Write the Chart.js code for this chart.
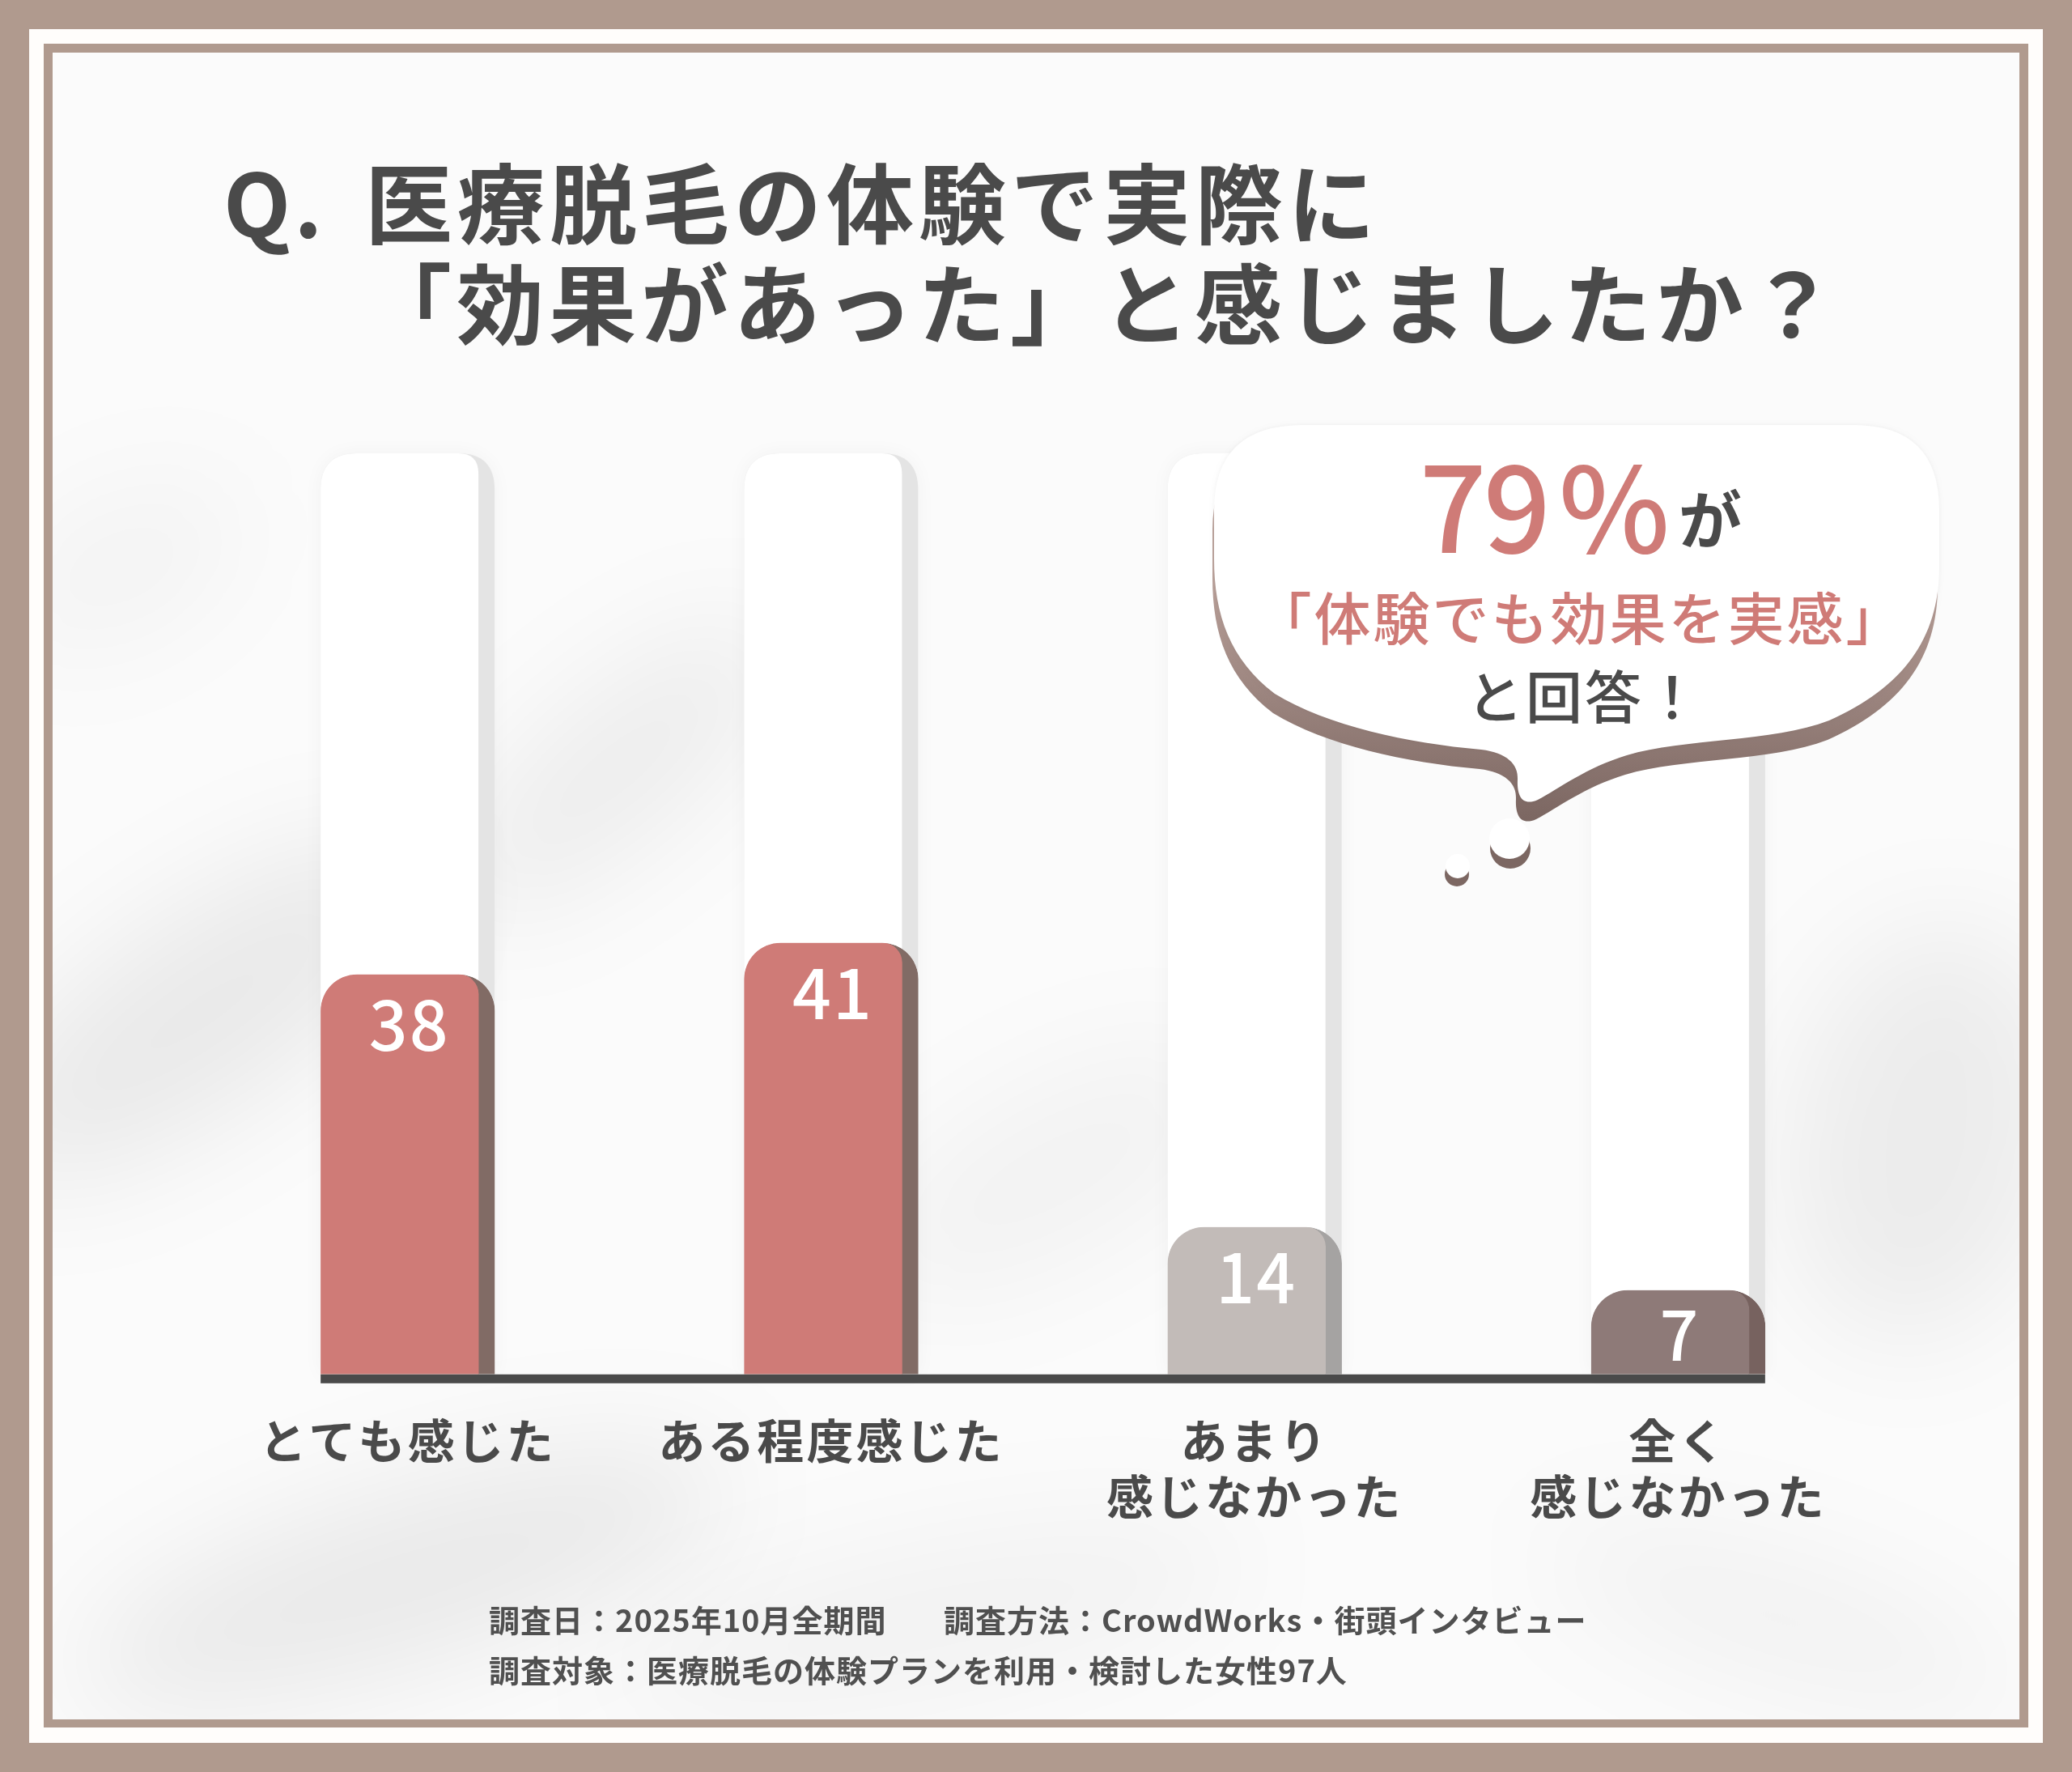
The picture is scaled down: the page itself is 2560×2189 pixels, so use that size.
<!DOCTYPE html>
<html lang="ja">
<head>
<meta charset="utf-8">
<title>医療脱毛の体験 効果アンケート</title>
<script src="https://cdn.jsdelivr.net/npm/chart.js@4.4.1/dist/chart.umd.min.js"></script>
<style>
  html, body { margin: 0; padding: 0; background: #b09a8e; }
  canvas { display: block; }
</style>
</head>
<body>
<canvas id="myChart" width="2560" height="2189"></canvas>
<script>
// data
var categories = [['とても感じた'], ['ある程度感じた'], ['あまり', '感じなかった'], ['全く', '感じなかった']];
var answers = [38, 41, 14, 7];
var titleLines = ['Q.', '医療脱毛の体験で実際に', '「効果があった」と感じましたか？'];
var bubbleLines = ['79', '%', 'が', '「体験でも効果を実感」', 'と回答！'];
var notes = ['調査日：2025年10月全期間', '調査方法：CrowdWorks・街頭インタビュー', '調査対象：医療脱毛の体験プランを利用・検討した女性97人'];

// styles
var faceColors = ['#cf7b77', '#cf7b77', '#c2bbb8', '#8e7a78'];
var sideColors = ['#816b65', '#816b65', '#a5a3a2', '#77625f'];
var FONT = '"Noto Sans CJK JP", "Noto Sans", sans-serif';
var TAN = '#b09a8e';
var DARK = '#4a4a4a';
var PINK = '#cf7b77';

function topRoundRect(ctx, x, y, w, h, rl, rr) {
	ctx.beginPath();
	ctx.moveTo(x, y + h);
	ctx.lineTo(x, y + rl);
	ctx.quadraticCurveTo(x, y, x + rl, y);
	ctx.lineTo(x + w - rr, y);
	ctx.quadraticCurveTo(x + w, y, x + w, y + rr);
	ctx.lineTo(x + w, y + h);
	ctx.closePath();
}

//frame + soft background shadows
var backgroundPlugin = {
	id: 'pageBackground',
	beforeDraw: function(chart) {
		var ctx = chart.ctx;
		ctx.save();
		ctx.fillStyle = TAN;
		ctx.fillRect(0, 0, 2560, 2189);
		ctx.fillStyle = '#fffdfb';
		ctx.fillRect(36, 36, 2488, 2117);
		ctx.fillStyle = TAN;
		ctx.fillRect(54, 54, 2452, 2080);
		ctx.beginPath();
		ctx.rect(65, 65, 2430, 2059);
		ctx.clip();
		ctx.fillStyle = '#fbfbfb';
		ctx.fillRect(65, 65, 2430, 2059);

		ctx.filter = 'blur(70px)';
		var blobs = [
			[250, 1250, 330, 120, -0.6, 0.07],
			[760, 950, 260, 90, -0.7, 0.06],
			[500, 1950, 420, 110, -0.3, 0.07],
			[2380, 1400, 170, 260, 0.2, 0.06],
			[1300, 1450, 260, 110, -0.5, 0.035],
			[1150, 2000, 400, 90, -0.2, 0.04],
			[2200, 2000, 300, 80, 0.3, 0.04],
			[150, 700, 160, 80, -0.5, 0.035]
		];
		for (var i = 0; i < blobs.length; i++) {
			var b = blobs[i];
			ctx.fillStyle = 'rgba(0,0,0,' + b[5] + ')';
			ctx.beginPath();
			ctx.ellipse(b[0], b[1], b[2], b[3], b[4], 0, Math.PI * 2);
			ctx.fill();
		}
		ctx.restore();
		ctx.letterSpacing = '3px';
	}
};

//white columns behind each bar, base line and values
var trackPlugin = {
	id: 'tracks',
	beforeDatasetsDraw: function(chart) {
		var ctx = chart.ctx;
		var area = chart.chartArea;
		var yScale = chart.scales.y;
		var top = yScale.getPixelForValue(yScale.max);
		var meta = chart.getDatasetMeta(0);
		ctx.save();
		ctx.letterSpacing = '0px';
		meta.data.forEach(function(el) {
			var x0 = el.x - el.width / 2;
			var w = el.width;
			ctx.shadowColor = 'rgba(0,0,0,0.04)';
			ctx.shadowBlur = 25;
			topRoundRect(ctx, x0, top, w, area.bottom - top, 45, 45);
			ctx.fillStyle = '#e4e4e4';
			ctx.fill();
			ctx.shadowColor = 'transparent';
			topRoundRect(ctx, x0, top, w - 20, area.bottom - top, 45, 25);
			ctx.fillStyle = '#ffffff';
			ctx.fill();
		});
		ctx.restore();
	},
	afterDatasetsDraw: function(chart) {
		var ctx = chart.ctx;
		var area = chart.chartArea;
		var meta = chart.getDatasetMeta(0);
		var first = meta.data[0], last = meta.data[meta.data.length - 1];
		ctx.save();
		ctx.fillStyle = DARK;
		ctx.fillRect(first.x - first.width / 2, area.bottom, (last.x + last.width / 2) - (first.x - first.width / 2), 11);
		ctx.letterSpacing = '2px';
		ctx.fillStyle = '#ffffff';
		ctx.font = '500 84px ' + FONT;
		ctx.textAlign = 'center';
		ctx.textBaseline = 'middle';
		meta.data.forEach(function(el, i) {
			var off = Math.min(62, (el.base - el.y) / 2 + 3);
			ctx.fillText(String(answers[i]), el.x + 2, el.y + off);
		});
		ctx.restore();
	}
};

function bubblePath(ctx, dx, dy) {
	ctx.save();
	ctx.translate(dx, dy);
	ctx.beginPath();
	ctx.moveTo(1610, 525);
	ctx.lineTo(2290, 525);
	ctx.quadraticCurveTo(2396, 525, 2396, 630);
	ctx.lineTo(2396, 700);
	ctx.bezierCurveTo(2396, 790, 2350, 850, 2260, 890);
	ctx.bezierCurveTo(2190, 917, 2080, 912, 2010, 933);
	ctx.bezierCurveTo(1960, 948, 1925, 975, 1900, 988);
	ctx.bezierCurveTo(1882, 996, 1874, 985, 1875, 963);
	ctx.bezierCurveTo(1876, 944, 1862, 930, 1830, 926);
	ctx.bezierCurveTo(1740, 918, 1640, 897, 1575, 857);
	ctx.bezierCurveTo(1520, 815, 1500, 760, 1500, 690);
	ctx.lineTo(1500, 630);
	ctx.quadraticCurveTo(1500, 525, 1610, 525);
	ctx.closePath();
	ctx.restore();
}

function dot(ctx, x, y, r) {
	ctx.beginPath();
	ctx.arc(x, y, r, 0, Math.PI * 2);
}

//title, speech bubble and notes
var decorPlugin = {
	id: 'decor',
	afterDraw: function(chart) {
		var ctx = chart.ctx;
		ctx.save();

		//title
		ctx.fillStyle = DARK;
		ctx.textBaseline = 'middle';
		ctx.textAlign = 'left';
		ctx.font = '700 108px ' + FONT;
		ctx.letterSpacing = '4px';
		ctx.fillText(titleLines[0], 276, 252);
		ctx.letterSpacing = '6px';
		ctx.fillText(titleLines[1], 451, 252);
		ctx.fillText(titleLines[2], 450, 376);

		//bubble shadow
		var g = ctx.createLinearGradient(0, 700, 0, 1010);
		g.addColorStop(0, '#bca39c');
		g.addColorStop(1, '#7c6762');
		ctx.fillStyle = g;
		bubblePath(ctx, -2, 24);
		ctx.fill();
		dot(ctx, 1866, 1048, 25); ctx.fill();
		dot(ctx, 1800, 1080, 15); ctx.fill();

		ctx.shadowColor = 'rgba(0,0,0,0.06)';
		ctx.shadowBlur = 5;
		ctx.fillStyle = '#ffffff';
		bubblePath(ctx, 0, 0);
		ctx.fill();
		ctx.shadowColor = 'transparent';
		dot(ctx, 1865, 1036, 25); ctx.fill();
		dot(ctx, 1801, 1070, 15); ctx.fill();

		//bubble text
		ctx.fillStyle = PINK;
		ctx.font = '500 146px ' + FONT;
		ctx.textBaseline = 'alphabetic';
		ctx.letterSpacing = '-4px';
		ctx.textAlign = 'right';
		ctx.fillText(bubbleLines[0], 1912, 683);
		ctx.letterSpacing = '0px';
		ctx.textAlign = 'left';
		ctx.fillText(bubbleLines[1], 1926, 683);
		ctx.fillStyle = DARK;
		ctx.font = '700 78px ' + FONT;
		ctx.fillText(bubbleLines[2], 2074, 672);

		ctx.textAlign = 'center';
		ctx.textBaseline = 'middle';
		ctx.letterSpacing = '3px';
		ctx.fillStyle = PINK;
		ctx.font = '500 70px ' + FONT;
		ctx.fillText(bubbleLines[3], 1952, 764);
		ctx.fillStyle = DARK;
		ctx.fillText(bubbleLines[4], 1958, 861);

		//notes
		ctx.textAlign = 'left';
		ctx.letterSpacing = '1px';
		ctx.fillStyle = '#505050';
		ctx.font = '700 38px ' + FONT;
		ctx.fillText(notes[0], 604, 2002);
		ctx.fillText(notes[1], 1166, 2002);
		ctx.fillText(notes[2], 604, 2064);

		ctx.restore();
	}
};

var chart = new Chart(document.getElementById('myChart'), {
	type: 'bar',
	data: {
		labels: categories,
		datasets: [{
			data: answers,
			backgroundColor: faceColors,
			borderColor: sideColors,
			borderWidth: {top: 0, left: 0, right: 20, bottom: 0},
			borderSkipped: 'bottom',
			borderRadius: {topLeft: 45, topRight: 45, bottomLeft: 0, bottomRight: 0},
			barThickness: 215,
			minBarLength: 104
		}]
	},
	options: {
		responsive: false,
		devicePixelRatio: 1,
		animation: false,
		layout: {padding: {left: 242, right: 225, top: 560, bottom: 258}},
		plugins: {
			legend: {display: false},
			tooltip: {enabled: false}
		},
		scales: {
			x: {
				grid: {display: false, drawTicks: false},
				border: {display: false},
				ticks: {
					color: DARK,
					font: {family: FONT, size: 58, weight: 'bold', lineHeight: 1.2},
					padding: 47,
					maxRotation: 0,
					autoSkip: false
				}
			},
			y: {display: false, min: 0, max: 87.5}
		}
	},
	plugins: [backgroundPlugin, trackPlugin, decorPlugin]
});
</script>
</body>
</html>
